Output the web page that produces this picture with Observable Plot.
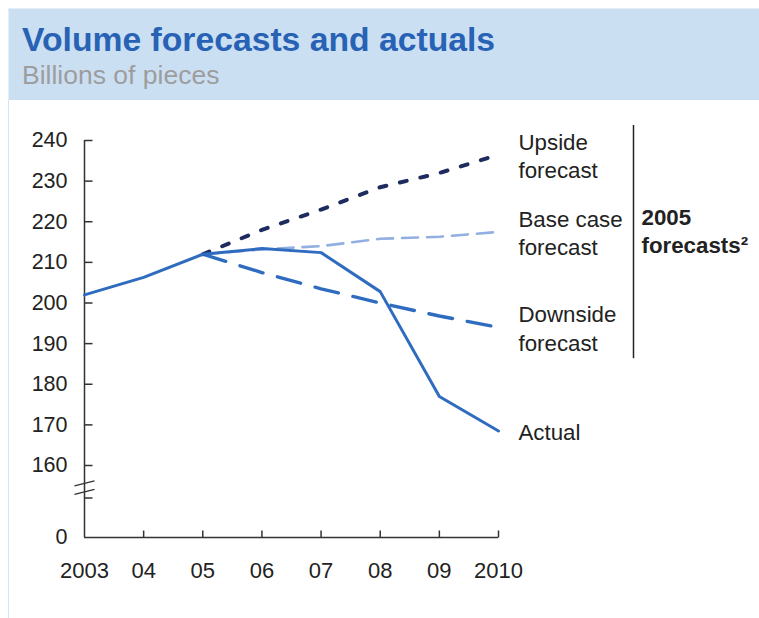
<!DOCTYPE html>
<html><head><meta charset="utf-8">
<script src="https://cdn.jsdelivr.net/npm/d3@7"></script>
<script src="https://cdn.jsdelivr.net/npm/@observablehq/plot@0.6"></script>
<style>
html,body{margin:0;padding:0;background:#fff;}
body{width:759px;height:618px;position:relative;overflow:hidden;font-family:"Liberation Sans",Arial,sans-serif;}
#band{position:absolute;left:8px;top:8px;right:0;height:92px;background:#cbdff3;border-top:1px solid #e3eef9;border-left:1px solid #e3eef9;box-sizing:border-box;}
#title{position:absolute;left:22px;top:23px;font-weight:bold;font-size:33.7px;color:#2862b4;line-height:1;white-space:nowrap;}
#subtitle{position:absolute;left:22px;top:62px;font-size:26.5px;color:#9d9d9d;line-height:1;white-space:nowrap;}
#edge{position:absolute;left:8px;top:100px;bottom:0;width:1px;background:#d6e5f4;}
#chart{position:absolute;left:0;top:100px;}
</style></head><body>
<div id="band"></div>
<div id="title">Volume forecasts and actuals</div>
<div id="subtitle">Billions of pieces</div>
<div id="edge"></div>
<div id="chart"></div>
<script>
// ---- data ----
const years = [2003, 2004, 2005, 2006, 2007, 2008, 2009, 2010];
const xLabels = ["2003", "04", "05", "06", "07", "08", "09", "2010"];
const actual = [202, 206.3, 212, 213.4, 212.4, 202.8, 177, 168.5];
const forecastYears = [2005, 2006, 2007, 2008, 2009, 2010];
const upside = [212, 218, 223, 228.5, 232, 236.5];
const baseCase = [212, 213.2, 214, 215.8, 216.3, 217.5];
const downside = [212, 207.5, 203.5, 200, 196.8, 194];
const yTicks = [0, 152, 160, 170, 180, 190, 200, 210, 220, 230, 240];
const yTickLabels = ["0", "", "160", "170", "180", "190", "200", "210", "220", "230", "240"];
const seriesNames = ["Upside\nforecast", "Base case\nforecast", "Downside\nforecast", "Actual"];
const groupLabel = "2005\nforecasts\u00b2";

// ---- tables ----
const toRows = (xs, vs) => xs.map((x, i) => ({year: x, value: vs[i]}));
const actualRows = toRows(years, actual);
const upsideRows = toRows(forecastYears, upside);
const baseRows = toRows(forecastYears, baseCase);
const downRows = toRows(forecastYears, downside);
const endLabels = [
  {year: 2010, value: upside[upside.length - 1], text: seriesNames[0]},
  {year: 2010, value: baseCase[baseCase.length - 1], text: seriesNames[1]},
  {year: 2010, value: downside[downside.length - 1], text: seriesNames[2]},
  {year: 2010, value: actual[actual.length - 1], text: seriesNames[3]}
];

const cActual = "#2f6cbf";
const cUp = "#1d2b5e";
const cBase = "#91afe1";
const axisColor = "#333";
const font = '"Liberation Sans", Arial, sans-serif';

// inward tick symbols
const yTickSym = {draw(ctx) { ctx.moveTo(0, 0); ctx.lineTo(8, 0); }};
const xTickSym = {draw(ctx) { ctx.moveTo(0, 0); ctx.lineTo(0, -7); }};

const chart = Plot.plot({
  width: 759,
  height: 518,
  marginLeft: 84,
  marginRight: 261,
  marginTop: 40,
  marginBottom: 81,
  style: {fontFamily: font, fontSize: "22px", color: "#222", background: "transparent", overflow: "visible"},
  x: {domain: [2003, 2010]},
  y: {type: "linear", domain: [0, 152, 240], range: [437, 397.5, 40]},
  marks: [
    // axis lines
    Plot.ruleX([2003], {y1: 0, y2: 240, stroke: axisColor, strokeWidth: 1.5}),
    Plot.ruleY([0], {x1: 2003, x2: 2010, stroke: axisColor, strokeWidth: 1.5}),
    // y tick marks (inward) and labels
    Plot.dot(yTicks.slice(1), {y: d => d, frameAnchor: "left", symbol: yTickSym, r: 4, fill: "none", stroke: axisColor, strokeWidth: 1.5}),
    Plot.axisY(yTicks, {tickSize: 0, tickPadding: 17, stroke: "none", fill: "#222", fontSize: 21.5,
      tickFormat: d => yTickLabels[yTicks.indexOf(d)], label: null}),
    // x tick marks (inward) and labels
    Plot.dot(years.slice(1), {x: d => d, frameAnchor: "bottom", symbol: xTickSym, r: 4, fill: "none", stroke: axisColor, strokeWidth: 1.5}),
    Plot.axisX(years, {tickSize: 0, tickPadding: 25, stroke: "none", fill: "#222", fontSize: 22,
      tickFormat: d => xLabels[years.indexOf(d)], label: null}),
    // axis break marks
    Plot.link([155.0, 152.9], {x1: 2002.83, x2: 2003.17, y1: d => d, y2: d => d + 1.2, stroke: axisColor, strokeWidth: 1.3}),
    // series
    Plot.line(baseRows, {x: "year", y: "value", stroke: cBase, strokeWidth: 2.6, strokeDasharray: "16,9"}),
    Plot.line(downRows, {x: "year", y: "value", stroke: cActual, strokeWidth: 3.4, strokeDasharray: "24,15"}),
    Plot.line(upsideRows, {x: "year", y: "value", stroke: cUp, strokeWidth: 4, strokeDasharray: "7,14"}),
    Plot.line(actualRows, {x: "year", y: "value", stroke: cActual, strokeWidth: 3}),
    // series labels
    Plot.text(endLabels, {x: "year", y: "value", text: "text", dx: 20, textAnchor: "start", lineAnchor: "middle",
      lineHeight: 1.27, fontSize: 22.3, fill: "#222"}),
    // group bracket and label
    Plot.ruleX([2010], {y1: 186.3, y2: 243.7, dx: 135, stroke: "#222", strokeWidth: 1.5}),
    Plot.text([groupLabel], {x: 2010, y: 218, text: d => d, dx: 143, textAnchor: "start", lineAnchor: "middle",
      lineHeight: 1.27, fontSize: 22.3, fontWeight: "bold", fill: "#222"})
  ]
});
document.getElementById("chart").appendChild(chart);
</script>
</body></html>
